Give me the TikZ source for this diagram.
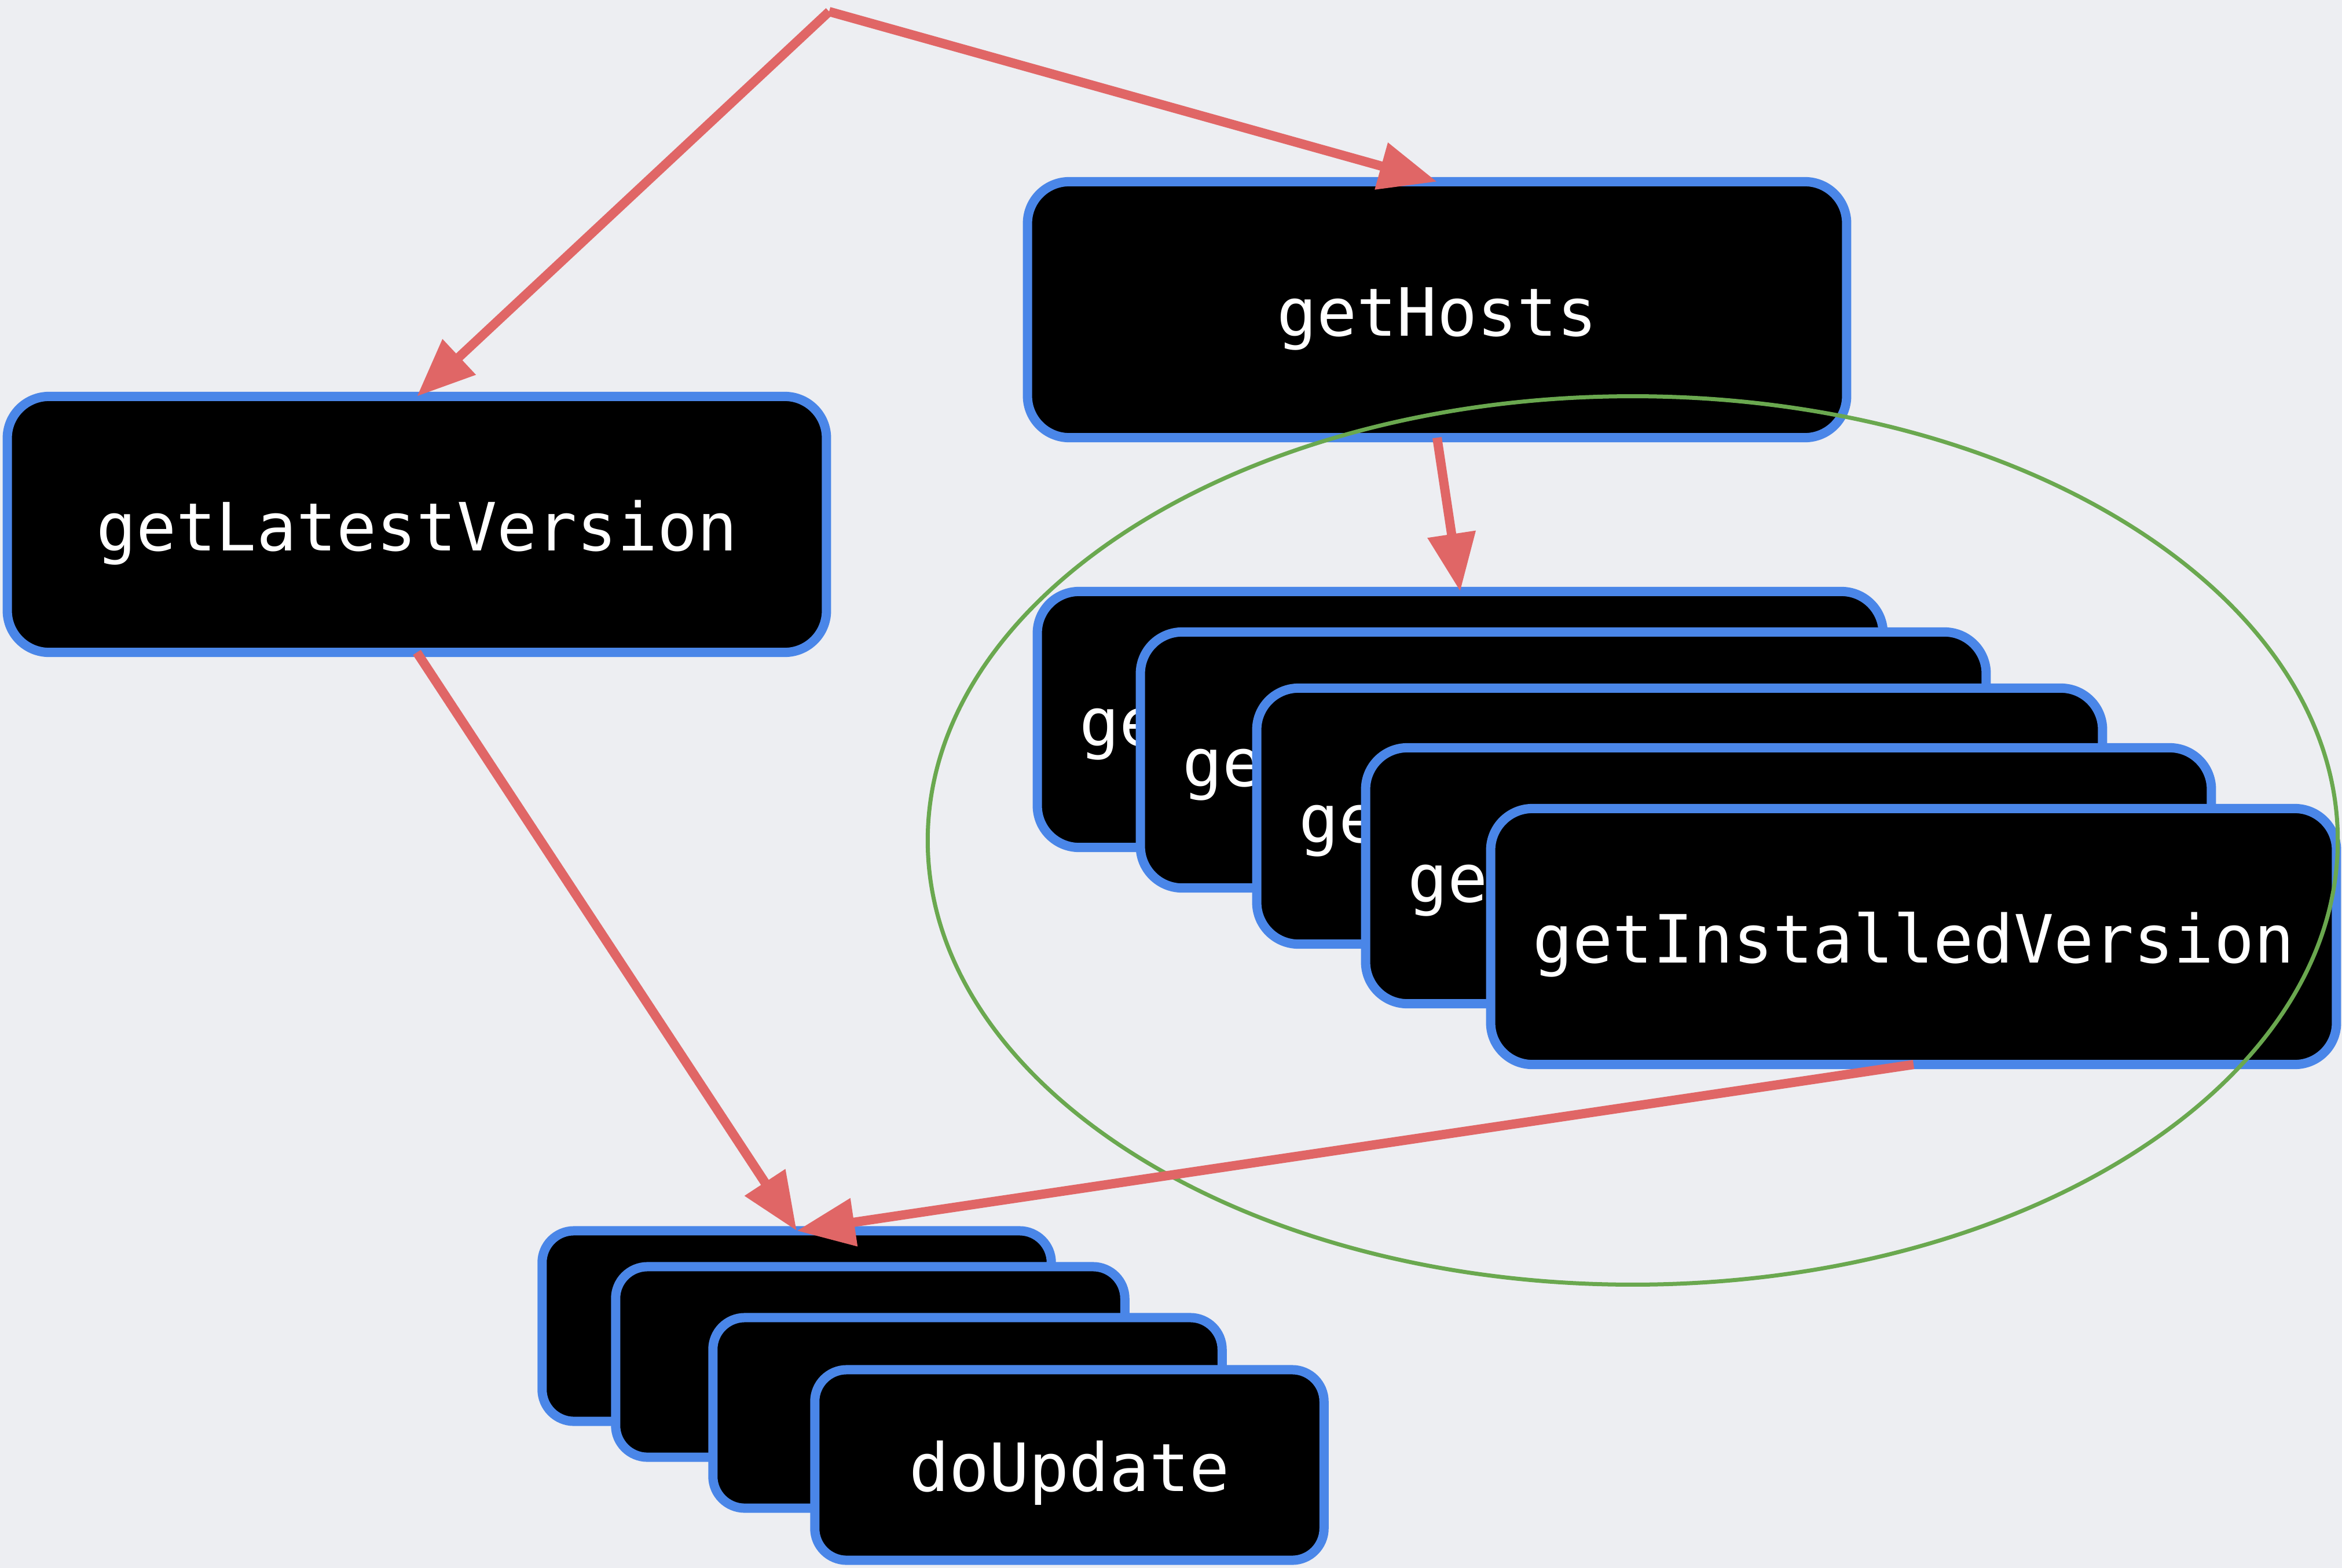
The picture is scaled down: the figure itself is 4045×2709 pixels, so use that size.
\documentclass[tikz,border=0pt]{standalone}
\usepackage{fontspec}
\setmonofont{DejaVu Sans Mono}
\usetikzlibrary{arrows.meta}
\definecolor{bgc}{RGB}{237,238,242}
\definecolor{boxblue}{HTML}{4A86E8}
\definecolor{arrred}{HTML}{E06666}
\definecolor{grpgreen}{HTML}{6AA84F}
\tikzset{
  fnbox/.style={draw=boxblue, fill=black, line width=0.16cm, rounded corners=0.72cm,
    text=white, font=\ttfamily\fontsize{32.7pt}{36pt}\selectfont,
    minimum height=4.42cm, text height=0.9cm, text depth=0pt, inner sep=0pt, outer sep=0pt},
  bigbox/.style={fnbox, minimum width=14.14cm},
  ivbox/.style={fnbox, minimum width=14.6cm},
  dubox/.style={fnbox, minimum width=8.79cm, minimum height=3.29cm, rounded corners=0.55cm},
  arr/.style={draw=arrred, line width=0.16cm, -{Triangle[length=1cm, width=0.8cm]}},
  grp/.style={draw=grpgreen, line width=0.07cm}
}
\begin{document}
\begin{tikzpicture}[x=0.01cm, y=-0.01cm]
\fill[bgc] (0,0) rectangle (4045,2709);
\useasboundingbox (0,0) rectangle (4045,2709);

\coordinate (start) at (1432,20);

\node[bigbox] (lv) at (720,906) {getLatestVersion};
\node[bigbox] (gh) at (2482,535) {getHosts};

\node[ivbox] (iv1) at (2522,1243) {getInstalledVersion};
\node[ivbox] (iv2) at (2700,1313) {getInstalledVersion};
\node[ivbox] (iv3) at (2901,1410) {getInstalledVersion};
\node[ivbox] (iv4) at (3089,1513) {getInstalledVersion};
\node[ivbox] (iv5) at (3305,1618) {getInstalledVersion};

\node[dubox] (du1) at (1376,2291) {doUpdate};
\node[dubox] (du2) at (1503,2353) {doUpdate};
\node[dubox] (du3) at (1671,2441) {doUpdate};
\node[dubox] (du4) at (1847,2531) {doUpdate};

\draw[grp] (2820,1452) ellipse [x radius=12.17cm, y radius=7.67cm];

\draw[arr] (start) -- (lv.north);
\draw[arr] (start) -- (gh.north);
\draw[arr] (gh.south) -- (iv1.north);
\draw[arr] (lv.south) -- (du1.north);
\draw[arr] (iv5.south) -- (du1.north);
\end{tikzpicture}
\end{document}
